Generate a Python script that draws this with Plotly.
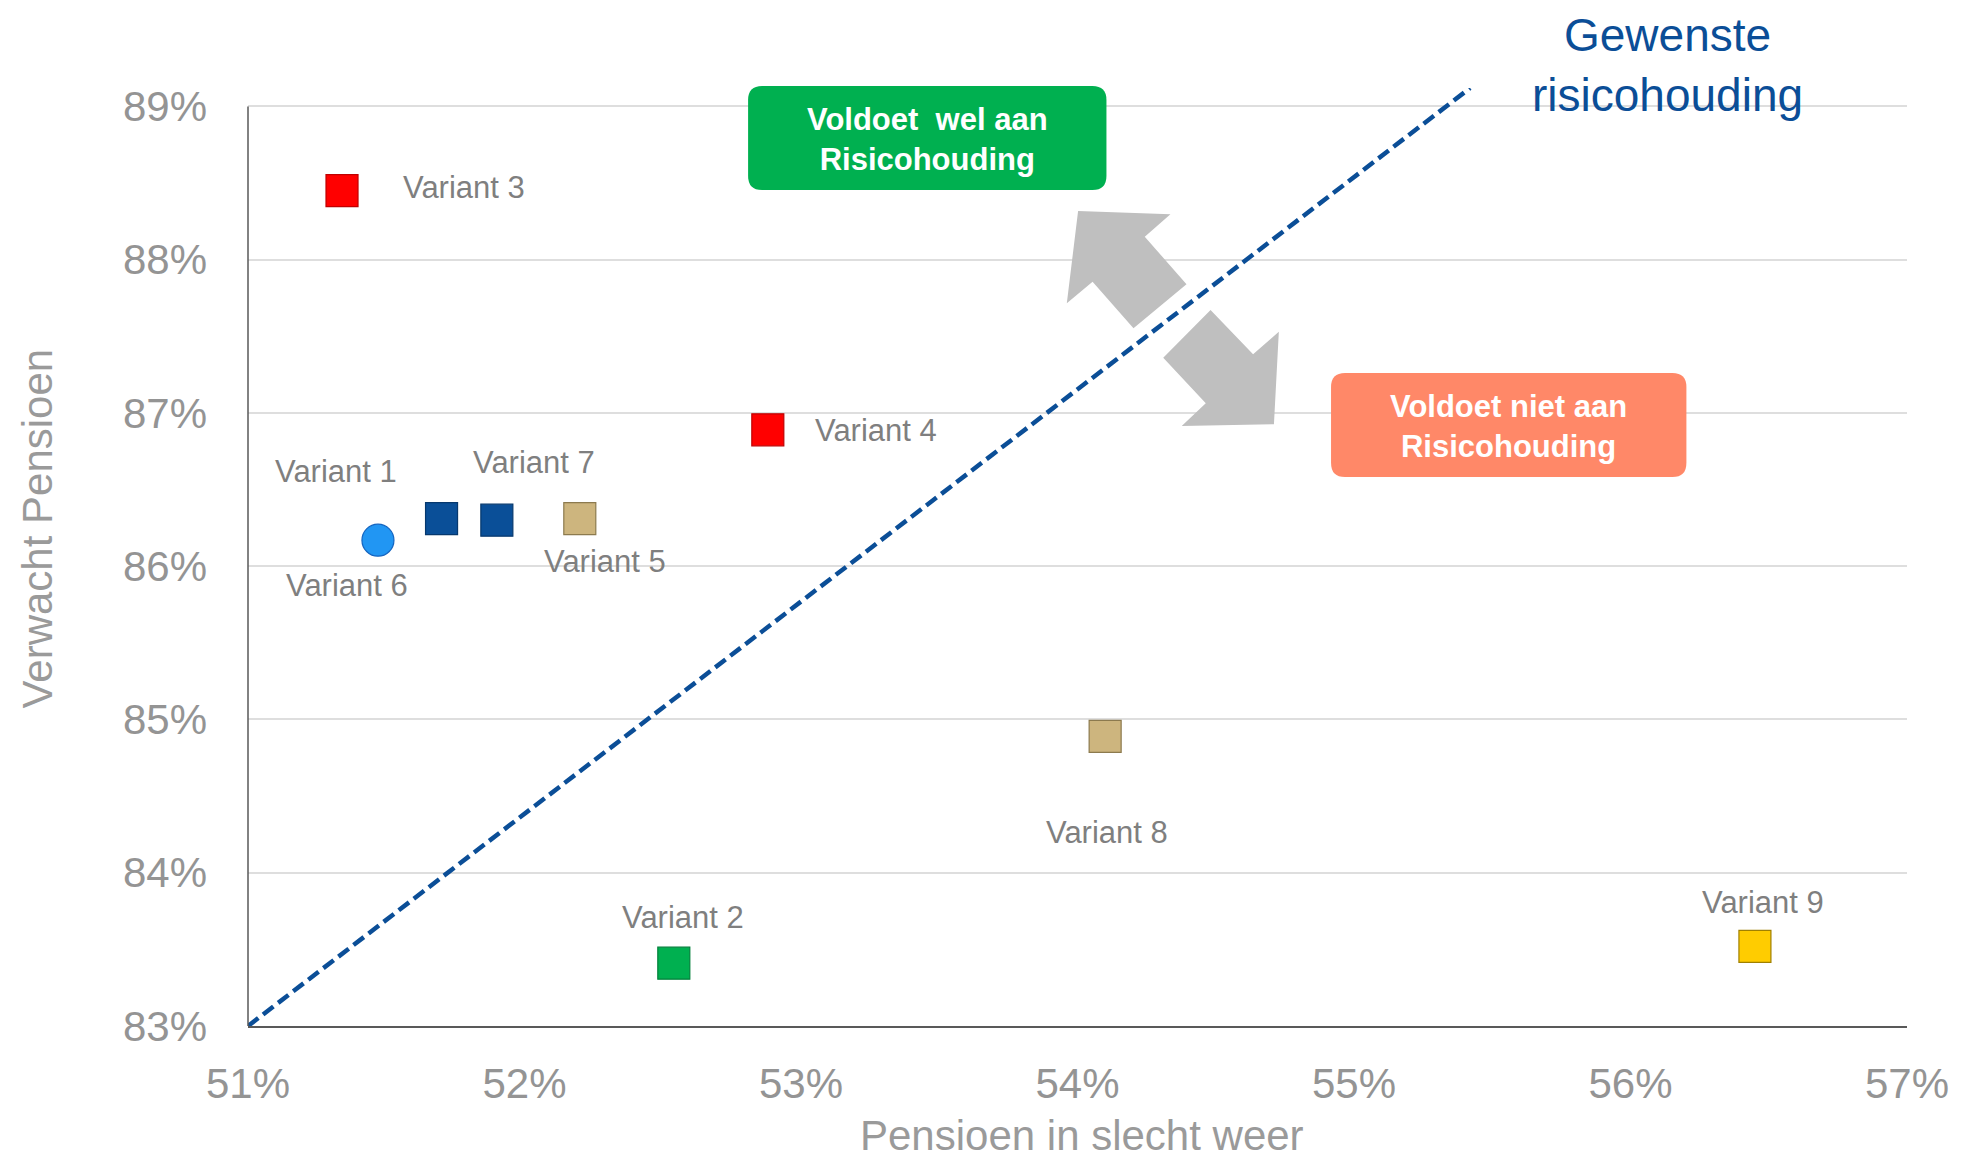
import plotly.graph_objects as go

# ---------------- data ----------------
names = ["Variant 1", "Variant 2", "Variant 3", "Variant 4", "Variant 5",
         "Variant 6", "Variant 7", "Variant 8", "Variant 9"]
pensioen_slecht_weer = [51.70, 52.54, 51.34, 52.88, 52.20, 51.47, 51.90, 54.10, 56.45]
verwacht_pensioen = [86.31, 83.41, 88.45, 86.89, 86.31, 86.17, 86.30, 84.89, 83.52]

line_x = [51.0, 55.42]
line_y = [83.0, 89.12]

x_ticks = [51, 52, 53, 54, 55, 56, 57]
y_ticks = [83, 84, 85, 86, 87, 88, 89]

# ---------------- styles ----------------
DARKBLUE = "#0B4E97"
colors = ["#0A4F98", "#00B050", "#FF0000", "#FF0000", "#CDB57E",
          "#2196F3", "#0A4F98", "#CDB57E", "#FFCC00"]
edge_colors = ["#06386E", "#00803A", "#C00000", "#C00000", "#8C7A4E",
               "#1565C0", "#06386E", "#8C7A4E", "#A08000"]
symbols = ["square", "square", "square", "square", "square",
           "circle", "square", "square", "square"]
# label offsets in pixels (x right, y up)
label_shift = [(-106, 47), (9, 46), (122, 3), (108, -1), (25, -43),
               (-31, -45), (37, 58), (2, -96), (8, 44)]

FONT = "Arial, Liberation Sans, sans-serif"
TICKGRAY = "#949494"
OFF = 8  # default body margin of the html page
W, H = 1961 - OFF, 1161 - OFF
ML, MR, MT, MB = 248 - OFF, 51, 88 - OFF, 135
PW, PH = W - ML - MR, H - MT - MB


def px(x):
    return (x - OFF - ML) / PW


def py(y):
    return (H - MB - (y - OFF)) / PH


def poly_path(pts):
    return "M " + " L ".join(f"{px(a):.5f},{py(b):.5f}" for a, b in pts) + " Z"


def round_rect(x0, y0, x1, y1, r):
    rx, ry = r / PW, r / PH
    X0, X1 = px(x0), px(x1)
    Y0, Y1 = py(y1), py(y0)  # bottom, top in paper
    return (f"M {X0+rx},{Y0} L {X1-rx},{Y0} Q {X1},{Y0} {X1},{Y0+ry} "
            f"L {X1},{Y1-ry} Q {X1},{Y1} {X1-rx},{Y1} L {X0+rx},{Y1} "
            f"Q {X0},{Y1} {X0},{Y1-ry} L {X0},{Y0+ry} Q {X0},{Y0} {X0+rx},{Y0} Z")


fig = go.Figure()

fig.add_trace(go.Scatter(
    x=line_x, y=line_y, mode="lines",
    line=dict(color=DARKBLUE, width=4.5, dash="13px,6px"),
    hoverinfo="skip", cliponaxis=False))

fig.add_trace(go.Scatter(
    x=pensioen_slecht_weer, y=verwacht_pensioen, mode="markers", text=names,
    marker=dict(size=32, color=colors, symbol=symbols,
                line=dict(color=edge_colors, width=1.2)),
    cliponaxis=False))

annotations = []
for n, xv, yv, (dx, dy) in zip(names, pensioen_slecht_weer, verwacht_pensioen, label_shift):
    annotations.append(dict(x=xv, y=yv, xref="x", yref="y", text=n, showarrow=False,
                            xshift=dx, yshift=dy, xanchor="center", yanchor="middle",
                            font=dict(family=FONT, size=31, color="#7F7F7F")))

# axis titles
annotations.append(dict(x=px(1084), y=py(1135), xref="paper", yref="paper",
                        text="Pensioen in slecht weer", showarrow=False,
                        xanchor="center", yanchor="middle", borderpad=0,
                        font=dict(family=FONT, size=42, color="#9A9A9A")))
annotations.append(dict(x=px(37), y=py(528), xref="paper", yref="paper",
                        text="Verwacht Pensioen", showarrow=False, textangle=-90,
                        xanchor="center", yanchor="middle",
                        font=dict(family=FONT, size=42, color="#9A9A9A")))
# line label
annotations.append(dict(x=px(1670), y=py(65), xref="paper", yref="paper",
                        text="Gewenste<br>risicohouding", showarrow=False,
                        xanchor="center", yanchor="middle", borderpad=0,
                        font=dict(family=FONT, size=46, color=DARKBLUE)))
# box texts
annotations.append(dict(x=px(929), y=py(140), xref="paper", yref="paper",
                        text="<b>Voldoet  wel aan<br>Risicohouding</b>", showarrow=False,
                        xanchor="center", yanchor="middle",
                        font=dict(family=FONT, size=31, color="white")))
annotations.append(dict(x=px(1511), y=py(427), xref="paper", yref="paper",
                        text="<b>Voldoet niet aan<br>Risicohouding</b>", showarrow=False,
                        xanchor="center", yanchor="middle",
                        font=dict(family=FONT, size=31, color="white")))

shapes = [
    # y axis line (only up to 89%)
    dict(type="line", xref="paper", yref="y", x0=0, x1=0, y0=83, y1=89,
         line=dict(color="#595959", width=1.5), layer="above"),
    # boxes
    dict(type="path", xref="paper", yref="paper", path=round_rect(749, 86, 1108, 190, 14),
         fillcolor="#00B050", line=dict(width=0), layer="above"),
    dict(type="path", xref="paper", yref="paper", path=round_rect(1333, 373, 1689, 477, 14),
         fillcolor="#FF8868", line=dict(width=0), layer="above"),
    # arrows
    dict(type="path", xref="paper", yref="paper",
         path=poly_path([(1079.6, 211), (1172.1, 214.3), (1146.4, 236.7), (1188.2, 284.3),
                         (1135.1, 328.3), (1094.1, 281.7), (1068.3, 303.3)]),
         fillcolor="#BFBFBF", line=dict(width=0), layer="above"),
    dict(type="path", xref="paper", yref="paper",
         path=poly_path([(1212.3, 310), (1254.9, 354.3), (1280.7, 331.7), (1275.8, 424.3),
                         (1183.4, 426), (1207.5, 403.3), (1164.9, 357.7)]),
         fillcolor="#BFBFBF", line=dict(width=0), layer="above"),
]

fig.update_layout(
    width=W, height=H,
    margin=dict(l=ML, r=MR, t=MT, b=MB, pad=0),
    plot_bgcolor="white", paper_bgcolor="white",
    showlegend=False,
    annotations=annotations, shapes=shapes,
    xaxis=dict(range=[51, 57], tickvals=x_ticks, ticktext=[f"{v}%" for v in x_ticks],
               showgrid=False, zeroline=False, showline=True, linecolor="#595959",
               linewidth=2, ticks="", ticklabelstandoff=20,
               tickfont=dict(family=FONT, size=42, color=TICKGRAY)),
    yaxis=dict(range=[83, 89.12], tickvals=y_ticks, ticktext=[f"{v}%" for v in y_ticks],
               showgrid=True, gridcolor="#DEDEDE", gridwidth=1.5, zeroline=False,
               showline=False, ticks="", ticklabelstandoff=40,
               tickfont=dict(family=FONT, size=42, color=TICKGRAY)),
)

fig.write_html("out.html")
